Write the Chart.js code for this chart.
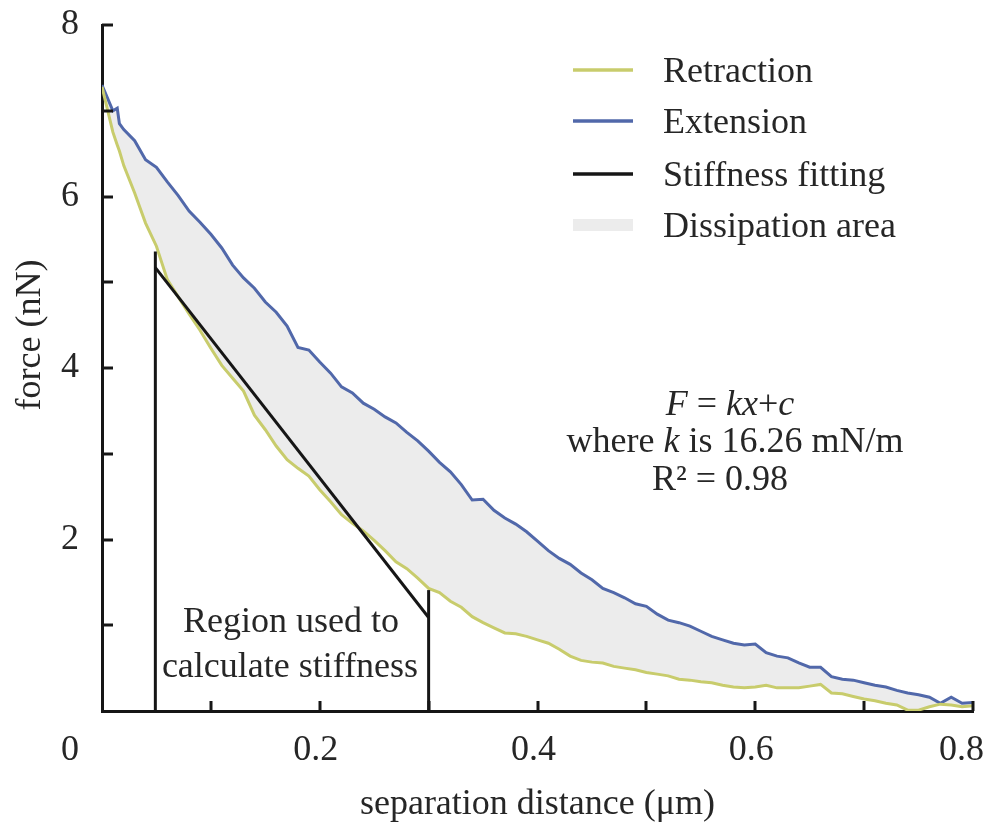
<!DOCTYPE html>
<html>
<head>
<meta charset="utf-8">
<script src="https://cdn.jsdelivr.net/npm/chart.js@4.4.0/dist/chart.umd.min.js"></script>
<style>
  html, body { margin: 0; padding: 0; background: #fff; }
  #wrap { width: 989px; height: 827px; }
</style>
</head>
<body>
<div id="wrap"><canvas id="forceChart" width="989" height="827"></canvas></div>
<script>
// separation distance (um), shared by both curves
const separation = [
  0.00, 0.01, 0.014, 0.016, 0.02, 0.03, 0.04, 0.05, 0.06, 0.07, 0.08, 0.09,
  0.10, 0.11, 0.12, 0.13, 0.14, 0.15, 0.16, 0.17, 0.18, 0.19,
  0.20, 0.21, 0.22, 0.23, 0.24, 0.25, 0.26, 0.27, 0.28, 0.29,
  0.30, 0.31, 0.32, 0.33, 0.34, 0.35, 0.36, 0.37, 0.38, 0.39,
  0.40, 0.41, 0.42, 0.43, 0.44, 0.45, 0.46, 0.47, 0.48, 0.49,
  0.50, 0.51, 0.52, 0.53, 0.54, 0.55, 0.56, 0.57, 0.58, 0.59,
  0.60, 0.61, 0.62, 0.63, 0.64, 0.65, 0.66, 0.67, 0.68, 0.69,
  0.70, 0.71, 0.72, 0.73, 0.74, 0.75, 0.76, 0.77, 0.78, 0.79,
  0.80
];
// force (nN)
const retractionForce = [
  7.28, 6.75, 6.60, 6.53, 6.36, 6.04, 5.69, 5.42, 5.03, 4.83, 4.63, 4.44,
  4.23, 4.03, 3.88, 3.73, 3.45, 3.28, 3.09, 2.93, 2.83, 2.74,
  2.58, 2.44, 2.29, 2.19, 2.10, 1.99, 1.87, 1.74, 1.66, 1.55,
  1.43, 1.38, 1.28, 1.21, 1.10, 1.03, 0.97, 0.91, 0.90, 0.87,
  0.83, 0.79, 0.72, 0.64, 0.59, 0.57, 0.56, 0.52, 0.50, 0.48,
  0.45, 0.43, 0.41, 0.37, 0.36, 0.34, 0.33, 0.30, 0.28, 0.27,
  0.28, 0.30, 0.27, 0.27, 0.27, 0.29, 0.31, 0.21, 0.20, 0.17,
  0.14, 0.12, 0.09, 0.07, 0.01, 0.01, 0.05, 0.08, 0.07, 0.05,
  0.06
];
const extensionForce = [
  7.30, 7.00, 7.03, 6.85, 6.78, 6.65, 6.43, 6.34, 6.17, 6.01, 5.83, 5.70,
  5.56, 5.40, 5.20, 5.05, 4.93, 4.77, 4.65, 4.49, 4.24, 4.21,
  4.07, 3.94, 3.78, 3.71, 3.59, 3.52, 3.43, 3.36, 3.25, 3.15,
  3.03, 2.90, 2.79, 2.64, 2.46, 2.47, 2.34, 2.25, 2.18, 2.09,
  1.98, 1.87, 1.78, 1.71, 1.61, 1.53, 1.43, 1.38, 1.32, 1.25,
  1.22, 1.13, 1.06, 1.03, 0.99, 0.93, 0.87, 0.83, 0.79, 0.77,
  0.78, 0.68, 0.64, 0.62, 0.56, 0.51, 0.51, 0.40, 0.37, 0.36,
  0.33, 0.30, 0.28, 0.24, 0.21, 0.19, 0.16, 0.09, 0.16, 0.09,
  0.10
];
// stiffness fit segment and the two region markers
const fitX = [0.049, 0.300];
const fitForce = [5.17, 1.09];
const regionX = [0.049, 0.300];
const regionTop = [5.36, 1.41];

const xLabelTicks = [0.2, 0.4, 0.6, 0.8];
const yLabelTicks = [2, 4, 6, 8];
const legendLabels = ['Retraction', 'Extension', 'Stiffness fitting', 'Dissipation area'];

const yellow = '#c8cc6c';
const blue = '#5168aa';
const black = '#161616';
const grey = '#ececec';
const textColor = '#262626';
const SERIF = "'Liberation Serif', 'Times New Roman', serif";
const FS = 36;

function drawRuns(ctx, runs, cx, baseY, size) {
  let total = 0;
  runs.forEach(r => {
    ctx.font = (r.i ? 'italic ' : '') + size + 'px ' + SERIF;
    r.w = ctx.measureText(r.t).width;
    total += r.w;
  });
  let x = cx - total / 2;
  runs.forEach(r => {
    ctx.font = (r.i ? 'italic ' : '') + size + 'px ' + SERIF;
    ctx.fillText(r.t, x, baseY);
    x += r.w;
  });
}

const decorPlugin = {
  id: 'decor',
  afterDraw(chart) {
    const { ctx, scales: { x, y } } = chart;
    ctx.save();
    ctx.strokeStyle = black;
    ctx.lineWidth = 3;
    ctx.lineCap = 'butt';
    // inward tick marks
    x.ticks.forEach(t => {
      if (t.value <= 0) return;
      const px = Math.round(x.getPixelForValue(t.value));
      ctx.beginPath();
      ctx.moveTo(px, y.bottom);
      ctx.lineTo(px, y.bottom - 10);
      ctx.stroke();
    });
    y.ticks.forEach(t => {
      if (t.value <= 0) return;
      const py = Math.round(y.getPixelForValue(t.value));
      ctx.beginPath();
      ctx.moveTo(x.left, py);
      ctx.lineTo(x.left + 11, py);
      ctx.stroke();
    });

    ctx.fillStyle = textColor;
    ctx.textBaseline = 'alphabetic';
    ctx.font = FS + 'px ' + SERIF;
    // x tick labels, nudged left like the original, last one kept inside
    ctx.textAlign = 'center';
    xLabelTicks.forEach(v => {
      const w = ctx.measureText(String(v)).width;
      let cx = x.getPixelForValue(v) - 4;
      cx = Math.min(cx, chart.width - 5 - w / 2);
      ctx.fillText(String(v), cx, 760);
    });
    // origin label
    ctx.textAlign = 'right';
    ctx.fillText('0', 79, 760);

    // y axis title, sitting a bit above the middle as in the original
    ctx.save();
    ctx.translate(40, 335);
    ctx.rotate(-Math.PI / 2);
    ctx.textAlign = 'center';
    ctx.fillText('force (nN)', 0, 0);
    ctx.restore();

    // legend
    ctx.textAlign = 'left';
    const rowBase = [82, 133, 186, 237];
    const swatch = [yellow, blue, black, grey];
    legendLabels.forEach((lab, i) => {
      const cy = rowBase[i] - 12;
      if (i < 3) {
        ctx.strokeStyle = swatch[i];
        ctx.lineWidth = 3.5;
        ctx.beginPath();
        ctx.moveTo(573, cy);
        ctx.lineTo(633, cy);
        ctx.stroke();
      } else {
        ctx.fillStyle = swatch[i];
        ctx.fillRect(573, cy - 6, 60, 12);
      }
      ctx.fillStyle = textColor;
      ctx.font = FS + 'px ' + SERIF;
      ctx.fillText(lab, 663, rowBase[i]);
    });

    // fit annotation
    drawRuns(ctx, [{ t: 'F', i: true }, { t: ' = ' }, { t: 'kx', i: true }, { t: '+' }, { t: 'c', i: true }], 730, 415, FS);
    drawRuns(ctx, [{ t: 'where ' }, { t: 'k', i: true }, { t: ' is 16.26 mN/m' }], 735, 452, FS);
    drawRuns(ctx, [{ t: 'R\u00B2 = 0.98' }], 720, 490, FS);

    // region note
    drawRuns(ctx, [{ t: 'Region used to' }], 291, 632, FS);
    drawRuns(ctx, [{ t: 'calculate stiffness' }], 290, 677, FS);
    ctx.restore();
  }
};

const pts = (xs, ys) => xs.map((v, i) => ({ x: v, y: ys[i] }));

new Chart(document.getElementById('forceChart').getContext('2d'), {
  type: 'line',
  data: {
    datasets: [
      {
        label: 'Retraction',
        data: pts(separation, retractionForce),
        borderColor: yellow,
        borderWidth: 3,
        pointRadius: 0,
        fill: false,
        order: 2
      },
      {
        label: 'Extension',
        data: pts(separation, extensionForce),
        borderColor: blue,
        borderWidth: 3,
        pointRadius: 0,
        backgroundColor: grey,
        fill: { target: 0 },
        order: 3
      },
      {
        label: 'Stiffness fitting',
        data: pts(fitX, fitForce),
        borderColor: black,
        borderWidth: 3,
        pointRadius: 0,
        fill: false,
        order: 1
      },
      {
        label: 'region start',
        data: [{ x: regionX[0], y: 0 }, { x: regionX[0], y: regionTop[0] }],
        borderColor: black,
        borderWidth: 3,
        pointRadius: 0,
        fill: false,
        order: 1
      },
      {
        label: 'region end',
        data: [{ x: regionX[1], y: 0 }, { x: regionX[1], y: regionTop[1] }],
        borderColor: black,
        borderWidth: 3,
        pointRadius: 0,
        fill: false,
        order: 1
      }
    ]
  },
  options: {
    responsive: false,
    animation: false,
    devicePixelRatio: 1,
    layout: { padding: { top: 25, right: 16, left: 0, bottom: 0 } },
    plugins: {
      legend: { display: false },
      tooltip: { enabled: false },
      filler: { propagate: false }
    },
    scales: {
      x: {
        type: 'linear',
        min: 0,
        max: 0.8,
        grid: { display: false, drawTicks: false },
        border: { display: true, color: black, width: 3 },
        ticks: {
          stepSize: 0.1,
          autoSkip: false,
          maxRotation: 0,
          font: { family: SERIF, size: FS },
          callback: () => ''
        },
        title: {
          display: true,
          text: 'separation distance (\u03BCm)',
          color: textColor,
          font: { family: SERIF, size: FS },
          padding: { top: 0, bottom: 1 }
        },
        afterFit: s => { s.height = 116; s.paddingLeft = 0; s.paddingRight = 0; }
      },
      y: {
        type: 'linear',
        min: 0,
        max: 8,
        grid: { display: false, drawTicks: false },
        border: { display: true, color: black, width: 3 },
        ticks: {
          stepSize: 1,
          padding: 23,
          color: textColor,
          font: { family: SERIF, size: FS },
          autoSkip: false,
          callback: v => yLabelTicks.includes(v) ? String(v) : ''
        },
        title: { display: false },
        afterFit: s => { s.width = 102; s.paddingTop = 0; s.paddingBottom = 0; }
      }
    }
  },
  plugins: [decorPlugin]
});
</script>
</body>
</html>
